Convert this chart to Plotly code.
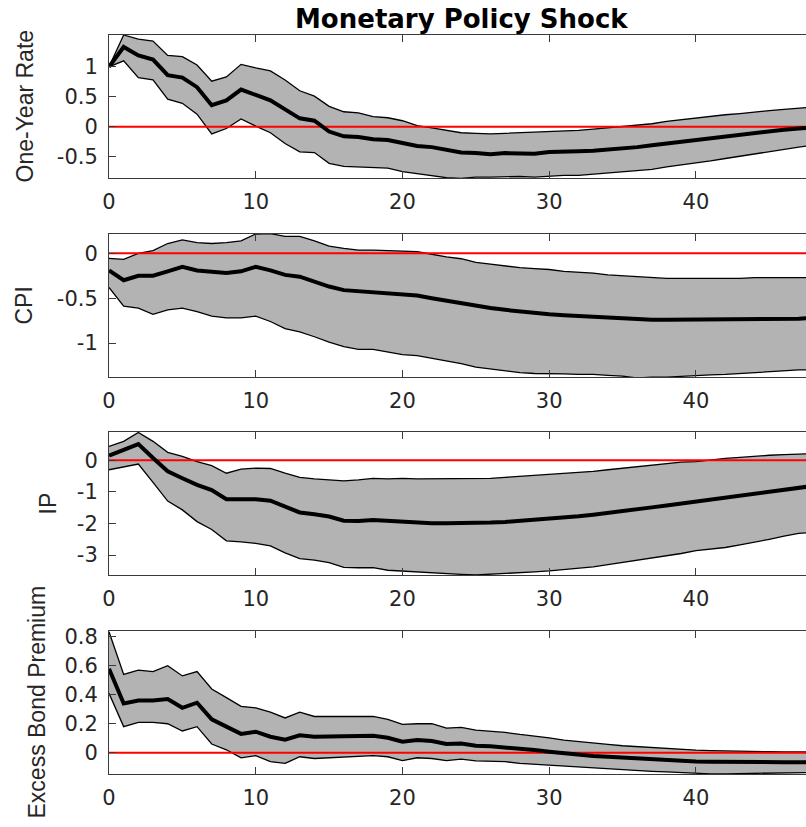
import plotly.graph_objects as go

horizon = list(range(49))

rate_med = [1.0, 1.33, 1.19, 1.12, 0.86, 0.82, 0.66, 0.36, 0.44, 0.62, 0.53, 0.44, 0.29, 0.14, 0.10, -0.08,
            -0.16, -0.17, -0.21, -0.22, -0.27, -0.32, -0.34, -0.39, -0.43, -0.44, -0.46, -0.44, -0.44, -0.45,
            -0.42, -0.42, -0.41, -0.40, -0.38, -0.37, -0.34, -0.31, -0.28, -0.25, -0.22, -0.19, -0.16, -0.13,
            -0.10, -0.07, -0.05, -0.03, -0.01]
rate_up = [1.0, 1.53, 1.46, 1.43, 1.19, 1.17, 1.03, 0.76, 0.83, 1.04, 0.98, 0.93, 0.78, 0.60, 0.51, 0.34,
           0.25, 0.23, 0.17, 0.15, 0.10, 0.02, -0.02, -0.06, -0.10, -0.11, -0.12, -0.11, -0.10, -0.10,
           -0.08, -0.07, -0.06, -0.04, -0.02, 0.0, 0.03, 0.05, 0.09, 0.12, 0.15, 0.18, 0.20, 0.22,
           0.25, 0.27, 0.29, 0.31, 0.33]
rate_lo = [1.0, 1.10, 0.82, 0.78, 0.46, 0.39, 0.21, -0.12, -0.03, 0.13, 0.01, -0.10, -0.28, -0.42, -0.43, -0.61,
           -0.66, -0.67, -0.68, -0.69, -0.75, -0.78, -0.82, -0.85, -0.86, -0.84, -0.84, -0.83, -0.83, -0.84,
           -0.82, -0.81, -0.81, -0.79, -0.77, -0.75, -0.73, -0.71, -0.67, -0.64, -0.61, -0.57, -0.53, -0.49,
           -0.46, -0.42, -0.38, -0.34, -0.31]

cpi_med = [-0.19, -0.30, -0.25, -0.25, -0.20, -0.15, -0.19, -0.21, -0.22, -0.20, -0.15, -0.19, -0.24, -0.26,
           -0.32, -0.37, -0.41, -0.42, -0.43, -0.44, -0.46, -0.47, -0.50, -0.53, -0.56, -0.59, -0.61, -0.63,
           -0.65, -0.66, -0.68, -0.69, -0.70, -0.71, -0.72, -0.73, -0.73, -0.74, -0.74, -0.74, -0.74, -0.74,
           -0.74, -0.74, -0.74, -0.74, -0.73, -0.73, -0.72]
cpi_up = [-0.056, -0.067, 0.0, 0.03, 0.11, 0.15, 0.12, 0.11, 0.12, 0.14, 0.216, 0.22, 0.19, 0.19, 0.14, 0.08,
          0.056, 0.037, 0.037, 0.03, 0.02, 0.02, -0.01, -0.04, -0.06, -0.10, -0.12, -0.14, -0.16, -0.17,
          -0.18, -0.20, -0.21, -0.22, -0.24, -0.25, -0.26, -0.27, -0.28, -0.28, -0.28, -0.28, -0.28, -0.28,
          -0.27, -0.27, -0.27, -0.27, -0.27]
cpi_lo = [-0.38, -0.59, -0.61, -0.68, -0.63, -0.61, -0.65, -0.70, -0.72, -0.72, -0.70, -0.76, -0.84, -0.875,
          -0.93, -0.99, -1.04, -1.07, -1.07, -1.10, -1.13, -1.14, -1.17, -1.20, -1.23, -1.27, -1.29, -1.31,
          -1.33, -1.34, -1.34, -1.345, -1.35, -1.35, -1.36, -1.37, -1.39, -1.38, -1.38, -1.37, -1.36, -1.355,
          -1.35, -1.34, -1.33, -1.32, -1.31, -1.30, -1.30]

ip_med = [0.15, 0.33, 0.51, 0.07, -0.35, -0.57, -0.78, -0.94, -1.23, -1.23, -1.23, -1.28, -1.47, -1.65, -1.71,
          -1.78, -1.91, -1.92, -1.89, -1.92, -1.95, -1.97, -1.99, -1.99, -1.99, -2.0, -1.97, -1.95, -1.92,
          -1.89, -1.86, -1.82, -1.77, -1.72, -1.67, -1.61, -1.55, -1.49, -1.43, -1.37, -1.31, -1.25, -1.19,
          -1.13, -1.06, -1.0, -0.94, -0.87, -0.81]
ip_up = [0.44, 0.60, 0.88, 0.60, 0.25, 0.12, -0.04, -0.17, -0.41, -0.28, -0.25, -0.26, -0.41, -0.54, -0.59,
         -0.62, -0.65, -0.62, -0.57, -0.59, -0.57, -0.59, -0.59, -0.58, -0.58, -0.59, -0.57, -0.54, -0.51,
         -0.48, -0.46, -0.41, -0.38, -0.35, -0.30, -0.25, -0.20, -0.15, -0.11, -0.06, -0.04, 0.02, 0.06,
         0.09, 0.13, 0.16, 0.18, 0.20, 0.21]
ip_lo = [-0.30, -0.22, -0.12, -0.70, -1.29, -1.57, -1.94, -2.19, -2.55, -2.58, -2.63, -2.71, -2.93, -3.11,
         -3.16, -3.24, -3.39, -3.40, -3.40, -3.48, -3.51, -3.53, -3.56, -3.58, -3.61, -3.63, -3.61, -3.58,
         -3.56, -3.53, -3.50, -3.46, -3.42, -3.37, -3.30, -3.23, -3.18, -3.10, -3.02, -2.95, -2.86, -2.82,
         -2.76, -2.68, -2.60, -2.50, -2.40, -2.31, -2.28]

ebp_med = [0.58, 0.34, 0.36, 0.36, 0.37, 0.31, 0.345, 0.23, 0.18, 0.13, 0.145, 0.11, 0.09, 0.12, 0.11, 0.11,
           0.11, 0.115, 0.117, 0.103, 0.076, 0.087, 0.08, 0.06, 0.064, 0.048, 0.044, 0.037, 0.025, 0.018,
           0.007, -0.005, -0.011, -0.023, -0.028, -0.034, -0.039, -0.046, -0.05, -0.055, -0.06, -0.062,
           -0.064, -0.065, -0.066, -0.066, -0.066, -0.066, -0.065]
ebp_up = [0.835, 0.54, 0.57, 0.56, 0.60, 0.53, 0.56, 0.44, 0.38, 0.32, 0.31, 0.28, 0.24, 0.28, 0.25, 0.25,
          0.25, 0.25, 0.25, 0.23, 0.195, 0.20, 0.20, 0.17, 0.175, 0.156, 0.15, 0.14, 0.126, 0.115, 0.103,
          0.087, 0.076, 0.064, 0.057, 0.048, 0.041, 0.034, 0.028, 0.023, 0.018, 0.015, 0.012, 0.01, 0.008,
          0.007, 0.006, 0.005, 0.005]
ebp_lo = [0.41, 0.18, 0.21, 0.21, 0.20, 0.15, 0.18, 0.06, 0.02, -0.035, -0.02, -0.062, -0.074, -0.028, -0.04,
          -0.035, -0.035, -0.028, -0.02, -0.028, -0.055, -0.035, -0.04, -0.055, -0.044, -0.057, -0.062,
          -0.062, -0.074, -0.08, -0.09, -0.097, -0.103, -0.108, -0.115, -0.12, -0.124, -0.129, -0.133,
          -0.138, -0.143, -0.146, -0.146, -0.145, -0.144, -0.142, -0.14, -0.138, -0.136]

panel_names = ["One-Year Rate", "CPI", "IP", "Excess Bond Premium"]
x_tickvals = [0, 10, 20, 30, 40]
x_ticktext = ["0", "10", "20", "30", "40"]
y_tickvals = [[-0.5, 0, 0.5, 1], [-1, -0.5, 0], [-3, -2, -1, 0], [0, 0.2, 0.4, 0.6, 0.8]]
y_ticktext = [["-0.5", "0", "0.5", "1"], ["-1", "-0.5", "0"], ["-3", "-2", "-1", "0"],
              ["0", "0.2", "0.4", "0.6", "0.8"]]
y_ranges = [[-0.855, 1.53], [-1.379, 0.216], [-3.63, 0.895], [-0.147, 0.84]]
title_text = "Monetary Policy Shock"

series = [(rate_lo, rate_up, rate_med), (cpi_lo, cpi_up, cpi_med),
          (ip_lo, ip_up, ip_med), (ebp_lo, ebp_up, ebp_med)]

W, H = 806, 827
ML, MT, MB = 109, 35, 53
plot_h = H - MT - MB
panel_px = [(35, 178), (234, 377), (432, 575), (631, 774)]
label_px = [24, 24, 47, 36]

fig = go.Figure()
layout = dict(width=W, height=H, margin=dict(l=ML, r=0, t=MT, b=MB),
              paper_bgcolor="white", plot_bgcolor="white", showlegend=False)

axis_col = "#3a3a3a"
annotations = []
for i, (lo, up, med) in enumerate(series):
    n = i + 1
    xa = "x" if n == 1 else f"x{n}"
    ya = "y" if n == 1 else f"y{n}"
    fig.add_trace(go.Scatter(x=horizon, y=lo, mode="lines", line=dict(color="black", width=1.3),
                             xaxis=xa, yaxis=ya, hoverinfo="skip"))
    fig.add_trace(go.Scatter(x=horizon, y=up, mode="lines", line=dict(color="black", width=1.3),
                             fill="tonexty", fillcolor="#b3b3b3", xaxis=xa, yaxis=ya, hoverinfo="skip"))
    fig.add_trace(go.Scatter(x=[0, 48], y=[0, 0], mode="lines", line=dict(color="#ff0000", width=2),
                             xaxis=xa, yaxis=ya, hoverinfo="skip"))
    fig.add_trace(go.Scatter(x=horizon, y=med, mode="lines", line=dict(color="black", width=4),
                             xaxis=xa, yaxis=ya, hoverinfo="skip"))
    top, bot = panel_px[i]
    dom = [(H - MB - bot) / plot_h, (H - MB - top) / plot_h]
    xkey = "xaxis" if n == 1 else f"xaxis{n}"
    ykey = "yaxis" if n == 1 else f"yaxis{n}"
    layout[xkey] = dict(domain=[0, 1], range=[0, 47.5], anchor=ya, tickvals=x_tickvals, ticktext=x_ticktext,
                        ticks="inside", ticklen=7, tickcolor=axis_col, showline=True, linecolor=axis_col,
                        linewidth=1, mirror="ticks", showgrid=False, zeroline=False,
                        tickfont=dict(family="DejaVu Sans", size=21, color="#262626"),
                        ticklabelstandoff=5)
    layout[ykey] = dict(domain=dom, range=y_ranges[i], anchor=xa, tickvals=y_tickvals[i],
                        ticktext=y_ticktext[i], ticks="inside", ticklen=7, tickcolor=axis_col,
                        showline=True, linecolor=axis_col, linewidth=1, showgrid=False, zeroline=False,
                        tickfont=dict(family="DejaVu Sans", size=21, color="#262626"),
                        ticklabelstandoff=6)
    annotations.append(dict(text=panel_names[i], xref="paper", yref="paper",
                            x=(label_px[i] - ML) / (W - ML), y=(dom[0] + dom[1]) / 2,
                            xanchor="center", yanchor="middle", textangle=-90, showarrow=False,
                            font=dict(family="Liberation Sans", size=23, color="#262626")))

annotations.append(dict(text=f"<b>{title_text}</b>", xref="x", yref="paper", x=24,
                        y=1 + (MT - 19) / plot_h, xanchor="center", yanchor="middle", showarrow=False,
                        font=dict(family="DejaVu Sans", size=26, color="black")))
layout["annotations"] = annotations
fig.update_layout(**layout)
fig.write_html("out.html", config={"displayModeBar": False, "staticPlot": True},
               post_script="document.body.style.margin='0';document.body.style.overflow='hidden';")
